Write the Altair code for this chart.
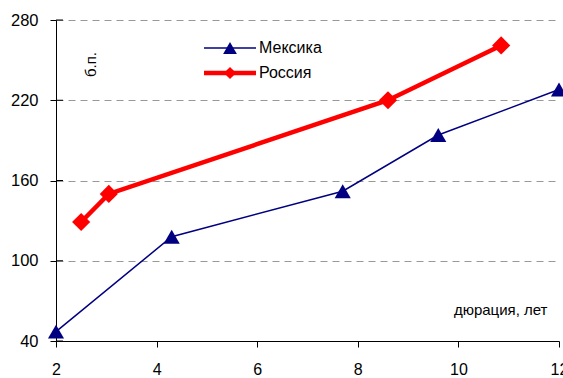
import altair as alt
import pandas as pd

# Duration (years) and spread (bp) for each curve
mex_dur = [2.0, 4.3, 7.7, 9.6, 12.0]
mex_bp = [47, 118, 152, 194, 228]
rus_dur = [2.5, 3.05, 8.6, 10.85]
rus_bp = [129, 150, 220, 261]

series = ["Мексика", "Россия"]
colors = ["#000080", "#FF0000"]
x_ticks = [2, 4, 6, 8, 10, 12]
y_ticks = [40, 100, 160, 220, 280]

mex = pd.DataFrame({"dur": mex_dur, "bp": mex_bp, "name": series[0]})
rus = pd.DataFrame({"dur": rus_dur, "bp": rus_bp, "name": series[1]})
yt = pd.DataFrame({"bp": y_ticks})

FONT = "Liberation Sans"

x_enc = alt.X(
    "dur:Q",
    scale=alt.Scale(domain=[2, 12], nice=False, zero=False),
    axis=alt.Axis(
        values=x_ticks, grid=False, tickSize=6, labelPadding=14,
        labelFlush=False, labelOverlap=False,
        domainColor="black", tickColor="black", labelColor="black",
        labelFontSize=16, labelFont=FONT,
        title="дюрация, лет", titleX=491, titleY=-32, titleAlign="right",
        titleBaseline="middle", titleFontWeight="normal", titleFontSize=15,
        titleFont=FONT, titleColor="black",
    ),
)
y_enc = alt.Y(
    "bp:Q",
    scale=alt.Scale(domain=[40, 280], nice=False, zero=False),
    axis=alt.Axis(
        values=y_ticks, grid=True, gridColor="#999999", gridDash=[7, 5],
        gridWidth=1, tickSize=6, labelPadding=12,
        labelFlush=False, labelOverlap=False,
        domainColor="black", tickColor="black", labelColor="black",
        labelFontSize=16.5, labelFont=FONT,
        title="б.п.", titleX=34, titleY=44, titleAngle=270,
        titleAlign="center", titleBaseline="middle",
        titleFontWeight="normal", titleFontSize=15, titleFont=FONT,
        titleColor="black",
    ),
)

mex_line = alt.Chart(mex).mark_line(color=colors[0], strokeWidth=1.5).encode(x=x_enc, y=y_enc)
mex_pts = alt.Chart(mex).mark_point(
    shape="triangle-up", filled=True, size=260, color=colors[0], opacity=1
).encode(x="dur:Q", y="bp:Q")

rus_line = alt.Chart(rus).mark_line(color=colors[1], strokeWidth=4.5).encode(x="dur:Q", y="bp:Q")
rus_pts = alt.Chart(rus).mark_point(
    shape="diamond", filled=True, size=330, color=colors[1], opacity=1
).encode(x="dur:Q", y="bp:Q")

# inner half of the y ticks, so they cross the axis line
y_tick_inner = alt.Chart(yt).mark_rule(color="black", strokeWidth=1).encode(
    y="bp:Q", x=alt.value(0), x2=alt.value(7)
)

# Legend drawn inside the plot area
legend_layers = []
legend_rows = [28, 53]
legend_widths = [1.5, 4.5]
legend_shapes = ["triangle-up", "diamond"]
legend_sizes = [190, 150]
for name, col, ypos, sw, shp, sz in zip(series, colors, legend_rows, legend_widths, legend_shapes, legend_sizes):
    src = alt.Chart(pd.DataFrame({"name": [name]}))
    legend_layers.append(
        src.mark_rule(color=col, strokeWidth=sw, strokeCap="butt").encode(
            x=alt.value(148), x2=alt.value(200), y=alt.value(ypos)
        )
    )
    legend_layers.append(
        src.mark_point(shape=shp, filled=True, size=sz, color=col, opacity=1).encode(
            x=alt.value(174), y=alt.value(ypos)
        )
    )
    legend_layers.append(
        src.mark_text(align="left", baseline="middle", fontSize=16, font=FONT, color="black").encode(
            x=alt.value(203), y=alt.value(ypos), text="name:N"
        )
    )

chart = alt.layer(
    mex_line, y_tick_inner, mex_pts, rus_line, rus_pts, *legend_layers
).properties(
    width=503,
    height=321,
    autosize=alt.AutoSizeParams(type="none"),
    padding={"left": 56, "top": 20, "right": 4, "bottom": 37},
    background="white",
).configure_view(stroke=None)

chart.save("out.html", embed_options={"renderer": "svg", "actions": False})
